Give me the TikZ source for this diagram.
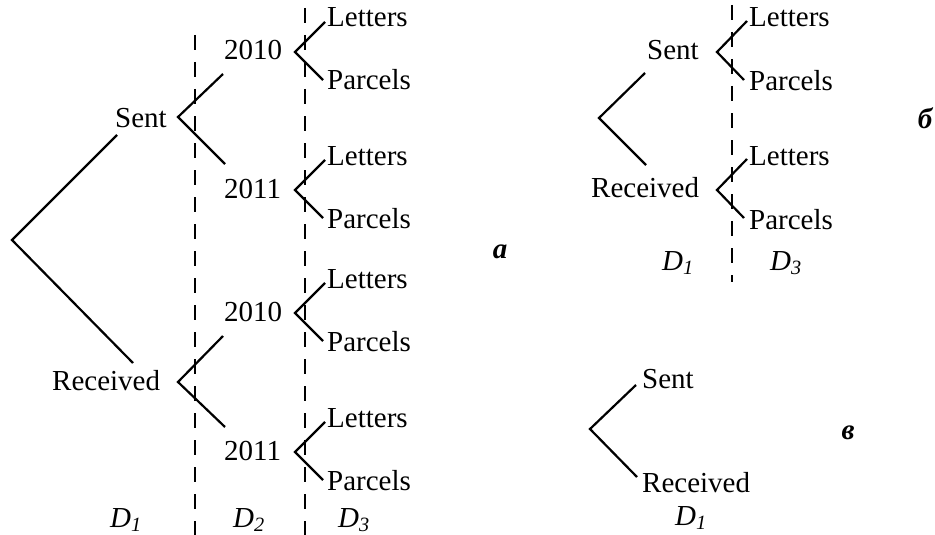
\documentclass[tikz,border=0pt]{standalone}
\usepackage{fontspec}
\setmainfont{Liberation Serif}
\newcommand\bigtxt{\fontsize{29}{34}\selectfont}
\begin{document}
\begin{tikzpicture}[x=1pt,y=-1pt,
  lbl/.style={inner sep=0pt, anchor=base west, font=\bigtxt},
  tag/.style={inner sep=0pt, anchor=center, font=\bigtxt\bfseries\itshape},
  br/.style={line width=2.2pt},
  dl/.style={line width=2.2pt, dash pattern=on 15pt off 12pt}]
\useasboundingbox (0,0) rectangle (935,535);
% ---------- panel a ----------
\coordinate (aL1t) at (195,35); \coordinate (aL1b) at (195,535);
\coordinate (aL2t) at (305,8);  \coordinate (aL2b) at (305,535);
\draw[dl] (aL1t) -- (aL1b);
\draw[dl] (aL2t) -- (aL2b);
\coordinate (r0) at (12,240);
\coordinate (r0u) at (117,135);
\coordinate (r0d) at (133,363);
\draw[br] (r0u) -- (r0) -- (r0d);
\node[lbl] (sent) at (115,128) {Sent};
\node[lbl] (recv) at (52,390) {Received};
\coordinate (st) at (178,117); \coordinate (stu) at (223,74); \coordinate (std) at (225,164);
\coordinate (rt) at (178,382); \coordinate (rtu) at (223,336); \coordinate (rtd) at (225,427);
\draw[br] (stu) -- (st) -- (std);
\draw[br] (rtu) -- (rt) -- (rtd);
\foreach \n/\yr/\y in {ya/2010/52, yb/2011/190, yc/2010/313, yd/2011/452}{
  \node[lbl] (\n) at (224,\y+8) {\yr};
  \coordinate (\n t) at (295,\y);
  \coordinate (\n u) at (325,\y-30);
  \coordinate (\n d) at (323,\y+28);
  \draw[br] (\n u) -- (\n t) -- (\n d);
  \node[lbl] (\n L) at (327,\y-25) {Letters};
  \node[lbl] (\n P) at (327,\y+38) {Parcels};
}
\node[lbl] (ad1) at (110,527) {\itshape D\textsubscript{1}};
\node[lbl] (ad2) at (233,527) {\itshape D\textsubscript{2}};
\node[lbl] (ad3) at (338,527) {\itshape D\textsubscript{3}};
\node[tag] (taga) at (500,252) {a};
% ---------- panel b ----------
\coordinate (bLt) at (732,5); \coordinate (bLb) at (732,282);
\draw[dl] (bLt) -- (bLb);
\coordinate (b0) at (599,118); \coordinate (b0u) at (645,73); \coordinate (b0d) at (646,165);
\draw[br] (b0u) -- (b0) -- (b0d);
\node[lbl] (bsent) at (647,60) {Sent};
\node[lbl] (brecv) at (591,197) {Received};
\foreach \n/\y in {bs/52, br/190}{
  \coordinate (\n t) at (717,\y);
  \coordinate (\n u) at (747,\y-31);
  \coordinate (\n d) at (744,\y+28);
  \draw[br] (\n u) -- (\n t) -- (\n d);
  \node[lbl] (\n L) at (749,\y-25) {Letters};
  \node[lbl] (\n P) at (749,\y+39) {Parcels};
}
\node[lbl] (bd1) at (662,270) {\itshape D\textsubscript{1}};
\node[lbl] (bd3) at (770,270) {\itshape D\textsubscript{3}};
\node[tag] (tagb) at (925,118) {б};
% ---------- panel c ----------
\coordinate (c0) at (590,429); \coordinate (c0u) at (636,385); \coordinate (c0d) at (637,477);
\draw[br] (c0u) -- (c0) -- (c0d);
\node[lbl] (csent) at (642,388) {Sent};
\node[lbl] (crecv) at (642,492) {Received};
\node[lbl] (cd1) at (675,525) {\itshape D\textsubscript{1}};
\node[tag] (tagc) at (848,433) {в};
\end{tikzpicture}
\end{document}
